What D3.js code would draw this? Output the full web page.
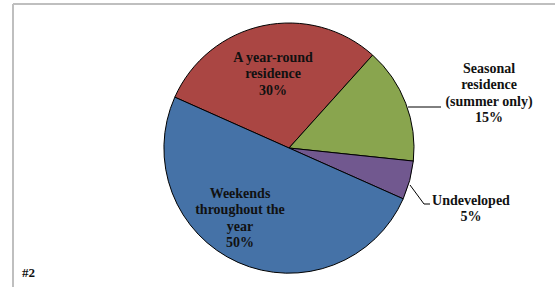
<!DOCTYPE html>
<html>
<head>
<meta charset="utf-8">
<script src="https://cdn.jsdelivr.net/npm/d3@7"></script>
<style>
  body { margin: 0; background: #fff; }
</style>
</head>
<body>
<div class="chartHolder"></div>
<script>
let width = 555,
  height = 287;

// data
let categories = ["A year-round residence", "Seasonal residence (summer only)", "Undeveloped", "Weekends throughout the year"];
let values = [30, 15, 5, 50];
let colors = ["#AA4643", "#89A54E", "#71588F", "#4572A7"];
// label lines as drawn on the chart
let labelLines = [
  ["A year-round", "residence", "30%"],
  ["Seasonal", "residence", "(summer only)", "15%"],
  ["Undeveloped", "5%"],
  ["Weekends", "throughout the", "year", "50%"]
];

let cx = 289, cy = 148, radius = 125;
let serif = "'Liberation Serif', 'Times New Roman', 'DejaVu Serif', serif";

let svgChart = d3
  .select(".chartHolder")
  .append("svg")
  .attr("width", width)
  .attr("height", height)
  .attr("font-family", serif)
  .attr("font-weight", "bold");

// chart frame (only top and left visible)
svgChart.append("line")
  .attr("x1", 13).attr("y1", 4).attr("x2", width).attr("y2", 4)
  .attr("stroke", "#bfbfbf").attr("stroke-width", 2);
svgChart.append("line")
  .attr("x1", 13).attr("y1", 4).attr("x2", 13).attr("y2", height)
  .attr("stroke", "#bfbfbf").attr("stroke-width", 2);

let startAngle = (-66 * Math.PI) / 180;
let pie = d3.pie()
  .sort(null)
  .startAngle(startAngle)
  .endAngle(startAngle + 2 * Math.PI);
let arcs = pie(values);

let arc = d3.arc().innerRadius(0).outerRadius(radius);

let g = svgChart.append("g").attr("transform", `translate(${cx},${cy})`);

g.selectAll("path")
  .data(arcs)
  .enter()
  .append("path")
  .attr("d", arc)
  .attr("fill", (d, i) => colors[i])
  .attr("stroke", "#000")
  .attr("stroke-width", 1);

// label positions relative to center (x center of text block, y of first line)
let labelPos = [
  [-16, -91],
  [200, -80],
  [182, 52],
  [-49, 45]
];
let lineH = 16.5;

labelLines.forEach((lines, i) => {
  let t = g.append("text")
    .attr("text-anchor", "middle")
    .attr("font-size", 14)
    .attr("fill", "#111")
    .attr("x", labelPos[i][0])
    .attr("y", labelPos[i][1]);
  lines.forEach((ln, j) => {
    t.append("tspan")
      .attr("x", labelPos[i][0])
      .attr("dy", j === 0 ? "0.35em" : lineH)
      .text(ln);
  });
});

// leader lines for outside labels
let leader = d3.line();
g.append("path")
  .attr("d", leader([[119, -41], [152, -41]]))
  .attr("fill", "none").attr("stroke", "#000");
g.append("path")
  .attr("d", leader([[121, 37], [135, 56], [141, 56]]))
  .attr("fill", "none").attr("stroke", "#000");

svgChart.append("text")
  .attr("x", 22)
  .attr("y", 277)
  .attr("font-size", 13)
  .attr("fill", "#111")
  .text("#2");
</script>
</body>
</html>
